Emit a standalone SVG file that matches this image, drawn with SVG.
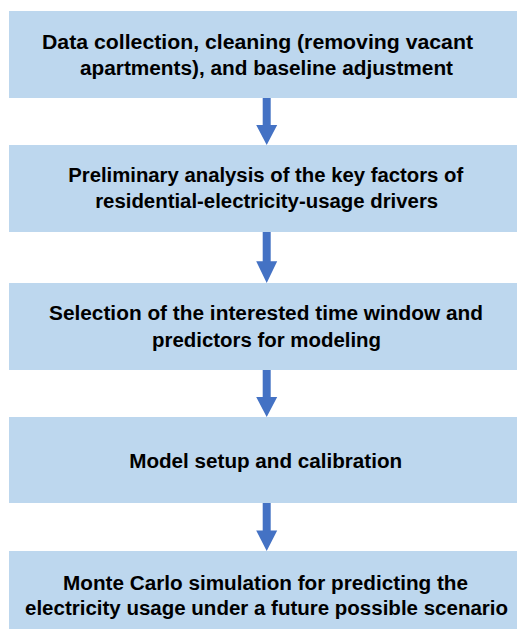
<svg xmlns="http://www.w3.org/2000/svg" width="517" height="629" viewBox="0 0 517 629">
<style>
.box{fill:#BDD7EE;}
.lbl{font-family:"Liberation Sans",Arial,sans-serif;font-weight:bold;font-size:20px;fill:#000;text-anchor:middle;}
.arr{fill:#4472C4;}
</style>
<defs>
<path id="arrowShape" d="M-4,0 H4 V27 H10.5 L0,47 L-10.5,27 H-4 Z"/>
</defs>
<rect width="517" height="629" fill="#FFFFFF"/>
<g id="node1">
<rect class="box" x="9" y="11" width="520" height="87"/>
<text class="lbl" x="257.5" y="48.5" textLength="431" lengthAdjust="spacingAndGlyphs">Data collection, cleaning (removing vacant</text>
<text class="lbl" x="266.5" y="75" textLength="373" lengthAdjust="spacingAndGlyphs">apartments), and baseline adjustment</text>
</g>
<g id="node2">
<rect class="box" x="9" y="145" width="520" height="87"/>
<text class="lbl" x="265.7" y="182" textLength="395" lengthAdjust="spacingAndGlyphs">Preliminary analysis of the key factors of</text>
<text class="lbl" x="266.7" y="207.5" textLength="343" lengthAdjust="spacingAndGlyphs">residential-electricity-usage drivers</text>
</g>
<g id="node3">
<rect class="box" x="9" y="283" width="520" height="87"/>
<text class="lbl" x="266" y="320" textLength="434" lengthAdjust="spacingAndGlyphs">Selection of the interested time window and</text>
<text class="lbl" x="266.5" y="347" textLength="229" lengthAdjust="spacingAndGlyphs">predictors for modeling</text>
</g>
<g id="node4">
<rect class="box" x="9" y="417" width="520" height="86"/>
<text class="lbl" x="265.7" y="468" textLength="273" lengthAdjust="spacingAndGlyphs">Model setup and calibration</text>
</g>
<g id="node5">
<rect class="box" x="9" y="551" width="520" height="90"/>
<text class="lbl" x="265.5" y="589.5" textLength="405" lengthAdjust="spacingAndGlyphs">Monte Carlo simulation for predicting the</text>
<text class="lbl" x="266.5" y="615" textLength="483" lengthAdjust="spacingAndGlyphs">electricity usage under a future possible scenario</text>
</g>
<g id="connectors">
<use href="#arrowShape" class="arr" transform="translate(266.7,98)"/>
<use href="#arrowShape" class="arr" transform="translate(266.7,232) scale(1,1.085)"/>
<use href="#arrowShape" class="arr" transform="translate(266.7,370)"/>
<use href="#arrowShape" class="arr" transform="translate(266.7,503) scale(1,1.02)"/>
</g>
</svg>
